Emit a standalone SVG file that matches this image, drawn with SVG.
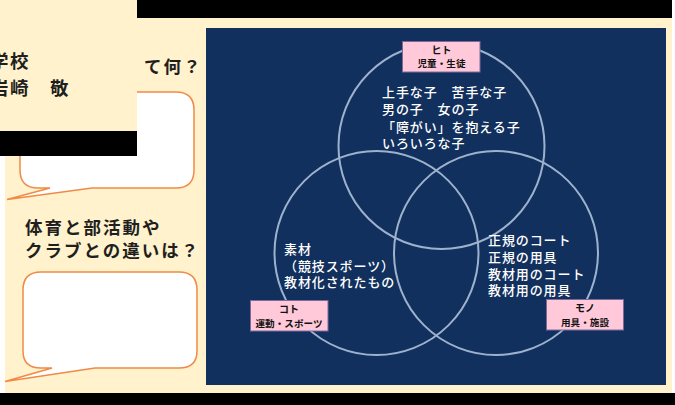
<svg xmlns="http://www.w3.org/2000/svg" width="675" height="405" viewBox="0 0 675 405">
<style>
text{font-family:"Noto Sans CJK JP","Noto Sans",sans-serif}
.h{font-size:17.500px;font-weight:700;fill:#1f1f1f;letter-spacing:2px}
.n{font-size:18.500px;font-weight:700;fill:#1f1f1f;letter-spacing:1.500px}
.w{font-size:13px;font-weight:500;fill:#fff;letter-spacing:.9px}
.l1{font-size:10px;font-weight:700;fill:#111;text-anchor:middle}
.l2{font-size:9.600px;font-weight:700;fill:#111;text-anchor:middle}
.bub{fill:#fff;stroke:#f08a46;stroke-width:1.500}
.c{fill:none;stroke:#9db2cd;stroke-width:2}
.lab{fill:#ffc9d9;stroke:#7d6a9a;stroke-width:1}
</style>
<rect width="675" height="405" fill="#fff"/>
<rect x="5" y="18" width="667" height="375" fill="#fff2cc"/>
<rect x="137" y="0" width="535" height="18" fill="#000"/>
<rect x="0" y="393" width="675" height="12" fill="#000"/>
<rect x="206" y="28" width="460" height="357" fill="#12305e"/>
<g id="q1">
<text class="h" x="144" y="73">て何？</text>
<path class="bub" d="M36 92H176Q194 92 194 110V170Q194 188 176 188H92L7 199.500L50 188H38Q20 188 20 170V110Q20 92 36 92Z"/>
</g>
<g id="q2">
<text class="h" x="25" y="234">体育と部活動や</text>
<text class="h" x="25" y="257">クラブとの違いは？</text>
<path class="bub" d="M41 272H179Q197 272 197 290V351Q197 368 179 368H95L5 381.500L52 368H41Q23 368 23 351V290Q23 272 41 272Z"/>
</g>
<g id="connectors">
<circle class="c" cx="441.500" cy="146" r="103"/>
<circle class="c" cx="376.500" cy="253" r="102"/>
<circle class="c" cx="496" cy="253" r="102"/>
</g>
<g id="hito">
<rect class="lab" x="402.500" y="41.500" width="77.500" height="30.500"/>
<text class="l1" x="441.500" y="54">ヒト</text>
<text class="l2" x="441.500" y="67">児童・生徒</text>
</g>
<g id="koto">
<rect class="lab" x="250.500" y="300.500" width="77.500" height="30.500"/>
<text class="l1" x="289" y="313">コト</text>
<text class="l2" x="289" y="326.500">運動・スポーツ</text>
</g>
<g id="mono">
<rect class="lab" x="546.500" y="299.500" width="77" height="30.500"/>
<text class="l1" x="585" y="312">モノ</text>
<text class="l2" x="585" y="325.500">用具・施設</text>
</g>
<g id="t1">
<text class="w" x="382" y="97">上手な子　苦手な子</text>
<text class="w" x="382" y="113.500">男の子　女の子</text>
<text class="w" x="382" y="131.500">「障がい」を抱える子</text>
<text class="w" x="382" y="147.500">いろいろな子</text>
</g>
<g id="t2">
<text class="w" x="284" y="254">素材</text>
<text class="w" x="284" y="270.500">（競技スポーツ）</text>
<text class="w" x="284" y="287">教材化されたもの</text>
</g>
<g id="t3">
<text class="w" x="488" y="245">正規のコート</text>
<text class="w" x="488" y="262">正規の用具</text>
<text class="w" x="488" y="278.500">教材用のコート</text>
<text class="w" x="488" y="295">教材用の用具</text>
</g>
<g id="cover">
<rect x="0" y="0" width="137" height="131" fill="#fff2cc"/>
<rect x="0" y="131" width="137" height="25" fill="#000"/>
<text class="n" x="-10" y="68">学校</text>
<text class="n" x="-10" y="95">岩崎　敬</text>
</g>
</svg>
